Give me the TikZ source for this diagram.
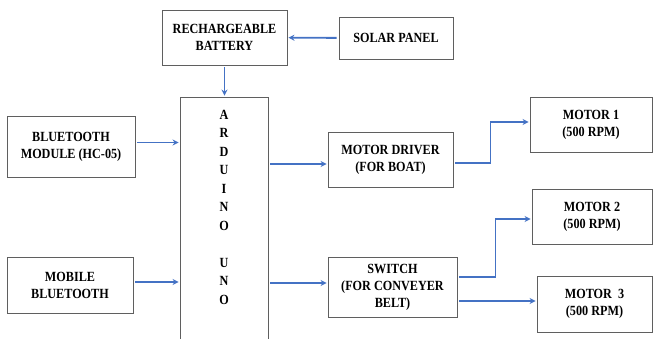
\documentclass[tikz,border=0pt]{standalone}
\usepackage{fontspec}
\setmainfont{Liberation Serif}[FakeStretch=0.87]
\usetikzlibrary{arrows.meta}
\definecolor{arrowblue}{RGB}{68,114,196}
\definecolor{boxgray}{RGB}{95,95,95}
\tikzset{
  blk/.style={draw=boxgray,line width=0.9pt,inner sep=0pt,align=center,
    font=\bfseries\fontsize{14}{17}\selectfont},
  link/.style={->,draw=arrowblue,line width=1.9pt,shorten <=2pt,shorten >=1pt}
}

\begin{document}
\begin{tikzpicture}[>={Stealth[length=6pt,width=6pt]},x=1pt,y=-1pt]
\useasboundingbox (0,0) rectangle (654,338);
\clip (0,0) rectangle (654,338);
\node[blk,minimum width=125pt,minimum height=55pt] (bat) at (224.5,37.5) {RECHARGEABLE\\BATTERY};
\node[blk,minimum width=114pt,minimum height=42pt] (sol) at (396,38) {SOLAR PANEL};
\node[blk,minimum width=88pt,minimum height=250pt,
  label={[anchor=north,yshift=-10pt,align=center,font=\bfseries\fontsize{14}{18.5}\selectfont]north:{A\\R\\D\\U\\I\\N\\O\\[18.5pt]U\\N\\O}}] (ard) at (224,222) {};
\node[blk,minimum width=128pt,minimum height=61pt] (bt) at (71,146.5) {BLUETOOTH\\MODULE (HC-05)};
\node[blk,minimum width=126pt,minimum height=56pt] (mob) at (70,285) {MOBILE\\BLUETOOTH};
\node[blk,minimum width=125pt,minimum height=55pt] (drv) at (390.5,159.5) {MOTOR DRIVER\\(FOR BOAT)};
\node[blk,minimum width=129pt,minimum height=60pt] (sw) at (392.5,287) {SWITCH\\(FOR CONVEYER\\BELT)};
\node[blk,minimum width=122pt,minimum height=55pt] (m1) at (591,124.5) {MOTOR 1\\(500 RPM)};
\node[blk,minimum width=120pt,minimum height=55pt] (m2) at (592,216.5) {MOTOR 2\\(500 RPM)};
\node[blk,minimum width=115pt,minimum height=56pt] (m3) at (594.5,304) {MOTOR\ \ 3\\(500 RPM)};
% power
\draw[link] (sol) -- (bat);
\draw[link] (bat.south) -- (bat.south |- ard.north);
% inputs
\draw[link] ([yshift=4pt]bt.east) -- ([yshift=4pt]bt.east -| ard.west);
\draw[link] ([yshift=3pt]mob.east) -- ([yshift=3pt]mob.east -| ard.west);
% outputs
\draw[link] ([yshift=-4.5pt]drv.west -| ard.east) -- ([yshift=-4.5pt]drv.west);
\draw[link] ([yshift=4pt]sw.west -| ard.east) -- ([yshift=4pt]sw.west);
\draw[link] ([yshift=-3.5pt]drv.east) -- ++(37,0) |- ([yshift=2.5pt]m1.west);
\draw[link] ([yshift=10pt]sw.east) -- ++(38,0) |- ([yshift=-2.5pt]m2.west);
\draw[link] ([yshift=-14pt]sw.east) -- ([yshift=-14pt]sw.east -| m3.west);
\end{tikzpicture}
\end{document}
